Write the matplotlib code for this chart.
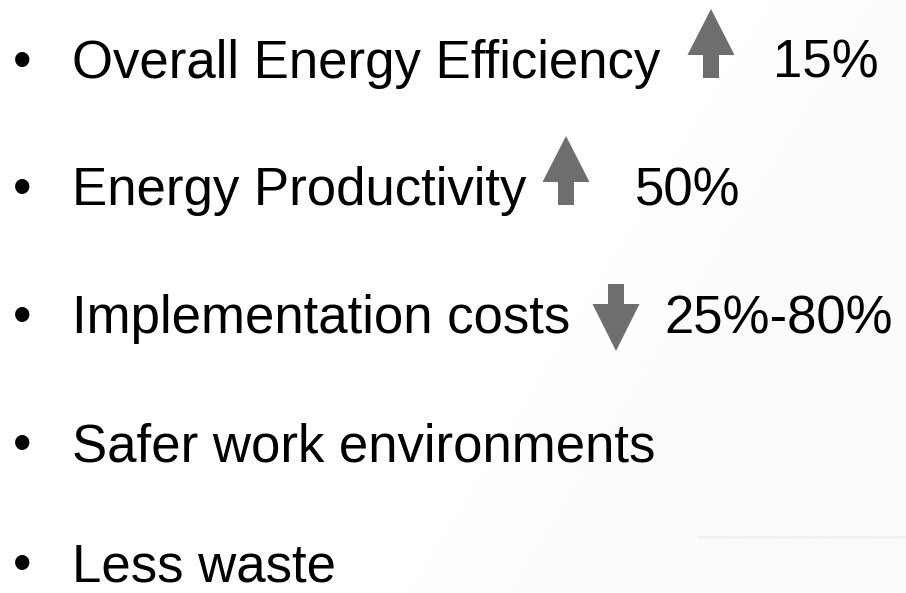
import numpy as np
import matplotlib.pyplot as plt
from matplotlib.patches import Polygon

plt.rcParams['font.family'] = ['Liberation Sans', 'DejaVu Sans']

# slide content
items = ["Overall Energy Efficiency", "Energy Productivity", "Implementation costs",
         "Safer work environments", "Less waste"]
trend = ["up", "up", "down", None, None]
change = ["15%", "50%", "25%-80%", None, None]

# layout (pixels)
W, H = 906, 593
baselines = [78, 205, 333, 461, 581]
arrow_x = [711, 566, 616, None, None]     # arrow centre
pct_x = [773, 635, 664, None, None]
FS = 38
GRAY = "#6e6e6e"

fig = plt.figure(figsize=(W / 100, H / 100), dpi=100)
ax = fig.add_axes([0, 0, 1, 1])
ax.set_xlim(0, W)
ax.set_ylim(H, 0)
ax.axis("off")

# very faint background shading on the right
xs = np.linspace(0, 1, 300)
ys = np.linspace(0, 1, 200)
X, Y = np.meshgrid(xs, ys)
shade = np.clip((X + 0.4 * Y - 0.8) * 4.0, 0, 1)
ax.imshow(1 - 0.018 * shade, cmap="gray", vmin=0, vmax=1,
          extent=[0, W, H, 0], aspect="auto", zorder=0)
ax.plot([700, W], [537, 537], color="#f2f2f2", lw=2, zorder=1)


def arrow(cx, base, up=True):
    hw, hh, sw, sl = 23.5, 46, 8, 23
    if up:
        pts = [(cx - sw, base), (cx - sw, base - sl), (cx - hw, base - sl),
               (cx, base - sl - hh), (cx + hw, base - sl), (cx + sw, base - sl),
               (cx + sw, base)]
    else:
        top = base - 49
        pts = [(cx - sw, top), (cx - sw, top + 20), (cx - hw, top + 20),
               (cx, top + 67), (cx + hw, top + 20), (cx + sw, top + 20),
               (cx + sw, top)]
    ax.add_patch(Polygon(pts, closed=True, facecolor=GRAY, edgecolor="none", zorder=2))


for i, label in enumerate(items):
    y = baselines[i]
    ax.text(13, y, "\u2022", fontsize=FS, ha="left", va="baseline", color="black")
    ax.text(72, y, label, fontsize=FS, ha="left", va="baseline", color="black")
    if trend[i] is not None:
        arrow(arrow_x[i], y, up=(trend[i] == "up"))
        ax.text(pct_x[i], y, change[i], fontsize=FS, ha="left", va="baseline", color="black")

fig.savefig("out.png", dpi=100)
